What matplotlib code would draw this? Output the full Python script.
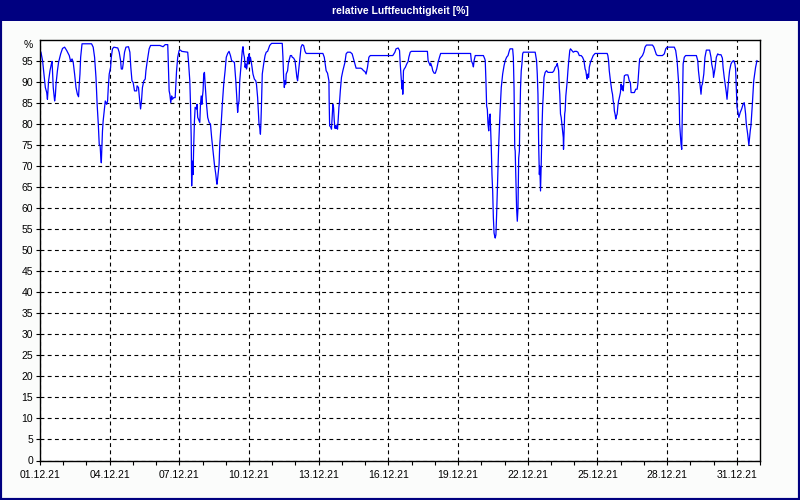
import matplotlib

matplotlib.use("Agg")
import matplotlib.pyplot as plt
from matplotlib.patches import Rectangle
from matplotlib.ticker import FixedLocator, MultipleLocator

# Hourly-ish relative humidity, December 2021.
# DAYS = days since 01.12.21 00:00, RH = relative humidity in %
DAYS = [
    0.04, 0.11, 0.17, 0.23, 0.29, 0.32, 0.37, 0.43, 0.49, 0.52, 0.57, 0.63, 0.66, 0.69,
    0.75, 0.80, 0.89, 0.97, 1.06, 1.15, 1.26, 1.32, 1.38, 1.43, 1.49, 1.55, 1.61, 1.66,
    1.69, 1.72, 1.75, 1.81, 2.22, 2.29, 2.35, 2.41, 2.46, 2.51, 2.55, 2.59, 2.61, 2.64,
    2.67, 2.69, 2.72, 2.78, 2.81, 2.84, 2.87, 2.91, 2.94, 2.98, 3.04, 3.07, 3.12, 3.18,
    3.35, 3.41, 3.47, 3.50, 3.55, 3.58, 3.64, 3.70, 3.81, 3.87, 3.91, 3.96, 4.01, 4.07,
    4.16, 4.18, 4.24, 4.28, 4.33, 4.37, 4.41, 4.47, 4.53, 4.56, 4.61, 4.70, 4.76, 5.16,
    5.30, 5.39, 5.50, 5.53, 5.56, 5.59, 5.63, 5.67, 5.70, 5.76, 5.82, 5.85, 5.88, 5.93,
    5.99, 6.05, 6.10, 6.36, 6.39, 6.45, 6.48, 6.51, 6.52, 6.53, 6.56, 6.59, 6.62, 6.65,
    6.68, 6.74, 6.76, 6.79, 6.85, 6.88, 6.91, 6.94, 6.97, 6.99, 7.02, 7.05, 7.08, 7.11,
    7.17, 7.22, 7.28, 7.34, 7.39, 7.45, 7.51, 7.57, 7.60, 7.62, 7.65, 7.71, 7.74, 7.80,
    7.85, 7.91, 7.97, 8.02, 8.08, 8.14, 8.20, 8.25, 8.37, 8.43, 8.48, 8.51, 8.54, 8.57,
    8.60, 8.66, 8.71, 8.74, 8.77, 8.80, 8.83, 8.86, 8.89, 8.91, 8.94, 8.97, 9.00, 9.03,
    9.06, 9.11, 9.17, 9.23, 9.29, 9.32, 9.37, 9.40, 9.43, 9.46, 9.49, 9.51, 9.54, 9.57,
    9.63, 9.69, 9.74, 9.80, 9.89, 9.97, 10.32, 10.43, 10.46, 10.49, 10.52, 10.55, 10.58,
    10.60, 10.66, 10.69, 10.72, 10.78, 10.83, 10.86, 10.92, 10.98, 11.03, 11.06, 11.09,
    11.15, 11.21, 11.24, 11.29, 11.35, 11.41, 11.46, 12.18, 12.24, 12.27, 12.32, 12.38,
    12.44, 12.45, 12.47, 12.53, 12.55, 12.58, 12.61, 12.64, 12.67, 12.70, 12.73, 12.75,
    12.78, 12.81, 12.84, 12.87, 12.90, 12.93, 12.98, 13.04, 13.13, 13.18, 13.24, 13.36,
    13.44, 13.50, 13.56, 13.61, 13.81, 13.87, 13.93, 13.99, 14.04, 14.10, 14.13, 14.16,
    14.22, 15.19, 15.28, 15.33, 15.42, 15.48, 15.51, 15.53, 15.56, 15.59, 15.61, 15.62,
    15.65, 15.68, 15.73, 15.79, 15.85, 15.88, 15.94, 15.99, 16.68, 16.71, 16.77, 16.80,
    16.82, 16.88, 16.91, 16.97, 17.02, 17.08, 17.14, 17.20, 17.25, 18.54, 18.57, 18.60,
    18.63, 18.66, 18.69, 18.74, 19.09, 19.15, 19.17, 19.20, 19.23, 19.26, 19.29, 19.32,
    19.35, 19.38, 19.40, 19.43, 19.46, 19.49, 19.52, 19.55, 19.58, 19.60, 19.63, 19.66,
    19.69, 19.72, 19.75, 19.78, 19.81, 19.86, 19.92, 19.98, 20.03, 20.09, 20.15, 20.21,
    20.24, 20.35, 20.38, 20.41, 20.44, 20.46, 20.49, 20.52, 20.55, 20.58, 20.61, 20.64,
    20.66, 20.69, 20.72, 20.75, 20.78, 20.81, 21.32, 21.38, 21.41, 21.44, 21.47, 21.50,
    21.52, 21.55, 21.58, 21.61, 21.64, 21.67, 21.70, 21.75, 21.81, 21.87, 21.95, 22.07,
    22.13, 22.18, 22.24, 22.27, 22.30, 22.33, 22.36, 22.38, 22.41, 22.44, 22.47, 22.50,
    22.53, 22.54, 22.56, 22.59, 22.61, 22.64, 22.70, 22.73, 22.76, 22.79, 22.81, 22.84,
    22.90, 22.96, 23.02, 23.10, 23.16, 23.22, 23.30, 23.36, 23.42, 23.44, 23.47, 23.50,
    23.53, 23.56, 23.59, 23.62, 23.65, 23.70, 23.76, 23.82, 23.90, 24.42, 24.45, 24.48,
    24.51, 24.56, 24.59, 24.62, 24.65, 24.68, 24.71, 24.73, 24.76, 24.79, 24.82, 24.85,
    24.88, 24.91, 24.93, 24.99, 25.02, 25.05, 25.08, 25.11, 25.14, 25.16, 25.22, 25.31,
    25.34, 25.37, 25.42, 25.45, 25.59, 25.65, 25.71, 25.74, 25.77, 25.80, 25.82, 25.88,
    25.94, 26.00, 26.05, 26.11, 26.37, 26.43, 26.48, 26.54, 26.60, 26.80, 26.88, 26.94,
    27.00, 27.31, 27.37, 27.43, 27.49, 27.52, 27.54, 27.57, 27.60, 27.63, 27.66, 27.69,
    27.74, 27.80, 28.26, 28.32, 28.35, 28.40, 28.43, 28.46, 28.49, 28.52, 28.58, 28.63,
    28.69, 28.83, 28.89, 28.92, 28.98, 29.00, 29.06, 29.12, 29.18, 29.23, 29.32, 29.38,
    29.41, 29.46, 29.52, 29.55, 29.58, 29.61, 29.66, 29.69, 29.75, 29.81, 29.87, 29.92,
    29.95, 29.98, 30.01, 30.04, 30.09, 30.15, 30.21, 30.27, 30.32, 30.35, 30.38, 30.41,
    30.47, 30.50, 30.52, 30.55, 30.58, 30.61, 30.67, 30.73, 30.75, 30.81, 30.87,
]
RH = [
    97.1, 95.1, 91.9, 88.7, 87.5, 85.9, 90.3, 92.7, 94.3, 94.9, 88.7, 85.5, 86.7, 89.5,
    92.7, 94.7, 96.7, 98.0, 98.3, 97.5, 96.3, 94.9, 95.5, 94.7, 91.9, 88.7, 87.1, 86.5,
    89.5, 91.9, 95.9, 99.1, 99.1, 98.3, 95.9, 91.1, 84.7, 80.0, 75.2, 74.8, 72.8, 70.8,
    75.2, 78.4, 80.8, 84.0, 85.5, 85.1, 84.7, 85.5, 88.7, 91.9, 93.5, 95.9, 97.9, 98.3,
    98.1, 97.1, 95.1, 93.1, 93.1, 94.3, 97.1, 98.3, 98.4, 97.1, 93.5, 90.3, 89.9, 87.9,
    87.9, 89.1, 88.7, 86.3, 83.6, 85.5, 88.7, 90.3, 90.7, 92.7, 94.7, 97.9, 98.7, 98.7,
    98.4, 98.9, 98.9, 93.5, 87.9, 87.1, 85.1, 86.7, 85.9, 86.3, 86.3, 89.5, 92.7, 95.9,
    97.5, 97.6, 97.3, 97.1, 95.1, 90.3, 84.7, 76.8, 71.2, 65.3, 71.2, 68.0, 75.2, 80.8,
    84.0, 83.6, 84.7, 81.6, 80.8, 80.4, 84.7, 86.7, 84.7, 86.3, 87.9, 91.9, 92.3, 89.5,
    84.7, 81.6, 80.4, 80.0, 76.8, 73.6, 70.4, 68.0, 66.4, 65.7, 67.1, 70.4, 75.2, 80.0,
    84.7, 89.5, 92.7, 95.9, 96.8, 97.3, 96.3, 95.1, 94.7, 90.3, 85.5, 82.8, 84.7, 85.5,
    90.3, 94.3, 97.5, 98.4, 96.7, 95.9, 93.5, 94.3, 93.1, 93.5, 95.9, 94.3, 96.7, 95.1,
    95.9, 94.3, 91.9, 90.7, 90.3, 89.5, 86.3, 83.1, 80.0, 79.2, 77.6, 80.0, 85.5, 91.9,
    94.3, 96.3, 97.1, 97.3, 98.7, 99.2, 99.2, 99.2, 95.9, 91.1, 88.7, 90.3, 89.5,
    91.9, 92.7, 94.3, 95.1, 96.3, 96.3, 95.9, 95.7, 95.1, 92.7, 91.1, 90.3,
    93.5, 96.7, 98.3, 98.9, 98.7, 97.3, 96.8, 96.8, 95.9, 94.7, 92.7, 92.1,
    90.3, 85.5, 79.6, 79.2, 78.8, 81.6, 84.7, 83.9, 80.8, 79.0, 79.6, 79.0,
    79.6, 78.8, 81.2, 84.0, 85.5, 87.9, 91.1, 92.7, 94.7, 96.7, 97.1, 97.1,
    96.7, 95.5, 94.3, 93.3, 93.3, 93.1, 92.7, 92.5, 91.9, 93.5, 94.7, 95.9,
    96.3, 96.3, 97.1, 97.9, 98.1, 97.5, 94.3, 92.7, 90.3, 88.3, 90.3, 87.1,
    92.7, 93.1, 93.5, 94.3, 94.9, 95.9, 97.1, 97.3, 97.3, 95.1, 94.3, 93.9,
    94.5, 93.5, 92.7, 92.1, 92.1, 93.1, 94.7, 95.9, 96.8, 96.8, 95.1, 94.7,
    94.3, 93.6, 95.1, 96.3, 96.3, 95.5, 95.1, 90.3, 84.3, 83.5, 80.0, 78.4,
    81.6, 82.4, 79.2, 74.4, 68.0, 64.1, 57.7, 54.1, 53.3, 52.9, 53.7, 58.5,
    64.1, 70.4, 75.2, 79.2, 83.2, 88.7, 91.9, 93.9, 95.1, 95.9, 96.3, 97.5,
    97.9, 97.9, 95.9, 88.7, 74.4, 73.6, 67.2, 60.0, 56.9, 60.0, 71.9, 73.6,
    80.8, 88.7, 92.7, 94.3, 96.7, 97.1, 97.1, 95.1, 91.9, 87.1, 75.2, 68.0,
    70.0, 64.1, 70.4, 78.4, 84.0, 87.1, 91.1, 92.3, 92.7, 92.3, 92.3, 92.3,
    92.7, 93.5, 93.9, 94.4, 93.5, 92.7, 88.7, 87.1, 82.4, 81.6, 80.0, 78.4,
    76.8, 74.0, 77.6, 82.4, 83.2, 86.7, 90.3, 92.7, 94.7, 96.3, 97.5, 97.9,
    97.5, 97.1, 97.3, 97.3, 97.1, 96.3, 96.3, 95.9, 95.1, 94.3, 93.1, 92.7,
    91.5, 90.7, 91.9, 91.1, 93.5, 94.7, 95.5, 96.3, 96.8, 96.8, 96.3, 95.1,
    92.7, 90.3, 89.1, 87.9, 87.1, 85.5, 84.7, 83.1, 82.4, 81.2, 82.0, 82.4,
    84.3, 85.5, 85.9, 87.5, 89.5, 88.3, 89.1, 87.9, 89.9, 91.5, 91.7, 91.7,
    91.1, 90.3, 89.9, 87.5, 87.5, 88.3, 88.3, 89.5, 91.9, 94.3, 95.5, 95.9,
    96.3, 97.1, 98.3, 98.8, 98.8, 98.3, 97.5, 96.5, 96.3, 96.3, 96.7, 97.9,
    98.3, 98.3, 97.5, 95.1, 90.3, 86.3, 80.0, 77.6, 75.2, 74.0, 84.7, 94.3,
    95.9, 96.3, 96.3, 95.1, 92.7, 90.3, 88.7, 87.1, 89.1, 89.5, 91.9, 95.9,
    97.6, 97.6, 95.9, 94.3, 92.7, 91.1, 93.1, 95.9, 96.7, 96.5, 96.5, 95.7,
    93.5, 91.1, 88.7, 87.5, 85.9, 87.9, 91.1, 92.7, 94.3, 94.9, 95.1, 94.3,
    93.1, 88.7, 84.0, 83.2, 81.6, 82.8, 83.6, 84.7, 85.1, 83.9, 82.4, 80.0,
    77.6, 76.0, 75.0, 76.8, 78.4, 79.6, 84.7, 90.3, 91.1, 93.5, 95.1,
]

TITLE = "relative Luftfeuchtigkeit [%]"
X_TICK_DAYS = list(range(0, 31, 3))
X_TICK_LABELS = [f"{d + 1:02d}.12.21" for d in X_TICK_DAYS]
Y_TICKS = list(range(0, 100, 5))
UNIT_LABEL = "%"

NAVY = "#000080"
plt.rcParams["font.family"] = ["Liberation Sans", "DejaVu Sans"]

fig = plt.figure(figsize=(8, 5), dpi=100, facecolor="#fbfcfb")
ax = fig.add_axes([40 / 800, 39.5 / 500, 720 / 800, 420.5 / 500])
ax.set_facecolor("white")

ax.plot(DAYS, RH, color="#0000ff", lw=0.9)

ax.set_xlim(0, 31)
ax.set_ylim(0, 100)

ax.xaxis.set_major_locator(FixedLocator(X_TICK_DAYS))
ax.set_xticklabels(X_TICK_LABELS)
ax.xaxis.set_minor_locator(MultipleLocator(1))
ax.set_yticks(Y_TICKS)
ax.set_yticks([99], [UNIT_LABEL], minor=True)

ax.grid(True, which="major", color="black", lw=0.8, linestyle=(0, (3.5, 3)))
ax.tick_params(axis="both", which="both", labelsize=7.5, colors="black", width=0.8)
ax.tick_params(axis="x", which="major", length=3, pad=4)
ax.tick_params(axis="x", which="minor", length=3)
ax.tick_params(axis="y", which="major", length=3, pad=2)
ax.tick_params(axis="y", which="minor", length=0, pad=5)
for sp in ax.spines.values():
    sp.set_linewidth(1.0)
    sp.set_color("black")

# title bar and window frame
fig.patches.append(Rectangle((0, 1 - 21 / 500), 1, 21 / 500, transform=fig.transFigure,
                             facecolor=NAVY, edgecolor="none", zorder=0))
fig.text(0.5, 1 - 10.5 / 500, TITLE, color="white", fontsize=7.5, fontweight="bold",
         ha="center", va="center")
fig.patches.append(Rectangle((0, 0), 1, 1, transform=fig.transFigure, fill=False,
                             edgecolor=NAVY, lw=3, zorder=5))

fig.savefig("out.png", dpi=100, facecolor=fig.get_facecolor())
